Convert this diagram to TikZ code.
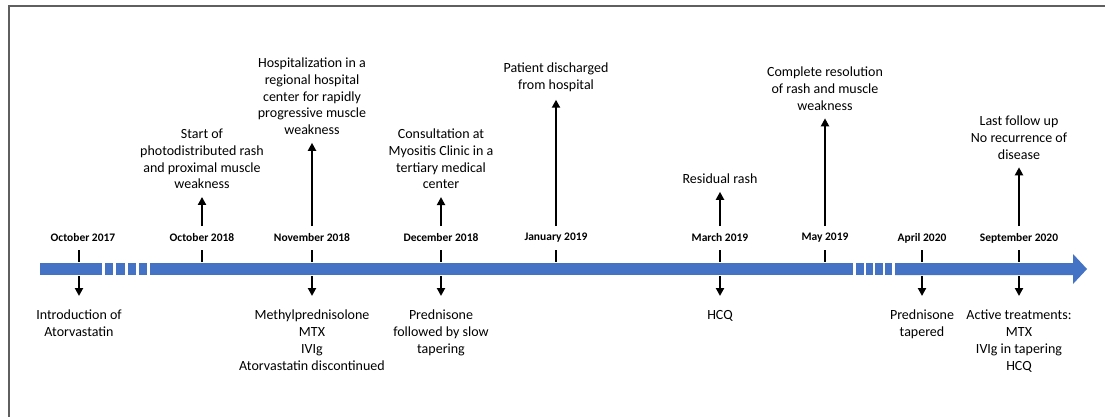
\documentclass[tikz,border=0pt]{standalone}
\usepackage{fontspec}
\setmainfont{Carlito}
\usetikzlibrary{arrows.meta}
\definecolor{barblue}{RGB}{68,114,196}
\definecolor{framegray}{RGB}{95,95,95}
\begin{document}
\begin{tikzpicture}[x=1pt,y=-1pt,
  datelbl/.style={font=\fontsize{11.5}{13}\selectfont\bfseries, inner sep=0pt, anchor=center},
  uptext/.style={font=\fontsize{14}{16.75}\selectfont, align=center, inner sep=0pt, outer ysep=8pt, anchor=north},
  downtext/.style={font=\fontsize{14}{16.75}\selectfont, align=center, inner sep=0pt, anchor=north},
  arr/.style={line width=2.5pt, -{Triangle[length=8pt,width=8pt]}},
  tick/.style={line width=2.5pt},
  seg/.style={fill=barblue, draw=none}]
\useasboundingbox (0,0) rectangle (1105,417);
% frame
\draw[framegray, line width=2pt] (8.5,417) -- (8.5,6.5) -- (1105,6.5);
% bar
\fill[seg] (40,263) rectangle (102,275);
\fill[seg] (105,263) rectangle (113,275);
\fill[seg] (116,263) rectangle (125,275);
\fill[seg] (128,263) rectangle (136,275);
\fill[seg] (139,263) rectangle (147,275);
\fill[seg] (150,263) rectangle (853,275);
\fill[seg] (856,263) rectangle (864,275);
\fill[seg] (866,263) rectangle (873,275);
\fill[seg] (875,263) rectangle (883,275);
\fill[seg] (885,263) rectangle (892,275);
\fill[seg] (895,263) -- (1073,263) -- (1073,254) -- (1087,269) -- (1073,284) -- (1073,275) -- (895,275) -- cycle;
% date labels
\node[datelbl] (d1) at (83,238) {October 2017};
\node[datelbl] (d2) at (202,238) {October 2018};
\node[datelbl] (d3) at (312,238) {November 2018};
\node[datelbl] (d4) at (441,238) {December 2018};
\node[datelbl] (d5) at (556,238) {January 2019};
\node[datelbl] (d6) at (720,238) {March 2019};
\node[datelbl] (d7) at (825,238) {May 2019};
\node[datelbl] (d8) at (922,238) {April 2020};
\node[datelbl] (d9) at (1019,238) {September 2020};
% ticks
\foreach \n/\x in {1/79,2/202,3/312,4/441,5/556,6/720,7/825,8/922,9/1019}{
  \coordinate (k\n) at (\x,250);
  \coordinate (b\n) at (\x,276);
  \coordinate (u\n) at (\x,226);
  \draw[tick] (k\n) -- (\x,262);
}
% upper texts
\node[uptext] (e2) at (202,121) {Start of\\photodistributed rash\\and proximal muscle\\weakness};
\node[uptext] (e3) at (312,50) {Hospitalization in a\\regional hospital\\center for rapidly\\progressive muscle\\weakness};
\node[uptext] (e4) at (441,121) {Consultation at\\Myositis Clinic in a\\tertiary medical\\center};
\node[uptext] (e5) at (556,55) {Patient discharged\\from hospital};
\node[uptext] (e6) at (720,166) {Residual rash};
\node[uptext] (e7) at (825,59) {Complete resolution\\of rash and muscle\\weakness};
\node[uptext] (e9) at (1019,108) {Last follow up\\No recurrence of\\disease};
\foreach \n in {2,3,4,5,6,7,9}{
  \draw[arr] (u\n) -- (u\n |- e\n.south);
}
% lower texts
\node[downtext] (f1) at (79,310) {Introduction of\\Atorvastatin};
\node[downtext] (f3) at (312,310) {Methylprednisolone\\MTX\\IVIg\\Atorvastatin discontinued};
\node[downtext] (f4) at (441,310) {Prednisone\\followed by slow\\tapering};
\node[downtext] (f6) at (720,310) {HCQ};
\node[downtext] (f8) at (922,310) {Prednisone\\tapered};
\node[downtext] (f9) at (1019,310) {Active treatments:\\MTX\\IVIg in tapering\\HCQ};
\foreach \n in {1,3,4,6,8,9}{
  \draw[arr] (b\n) -- ([yshift=14pt]b\n |- f\n.north);
}
\end{tikzpicture}
\end{document}
